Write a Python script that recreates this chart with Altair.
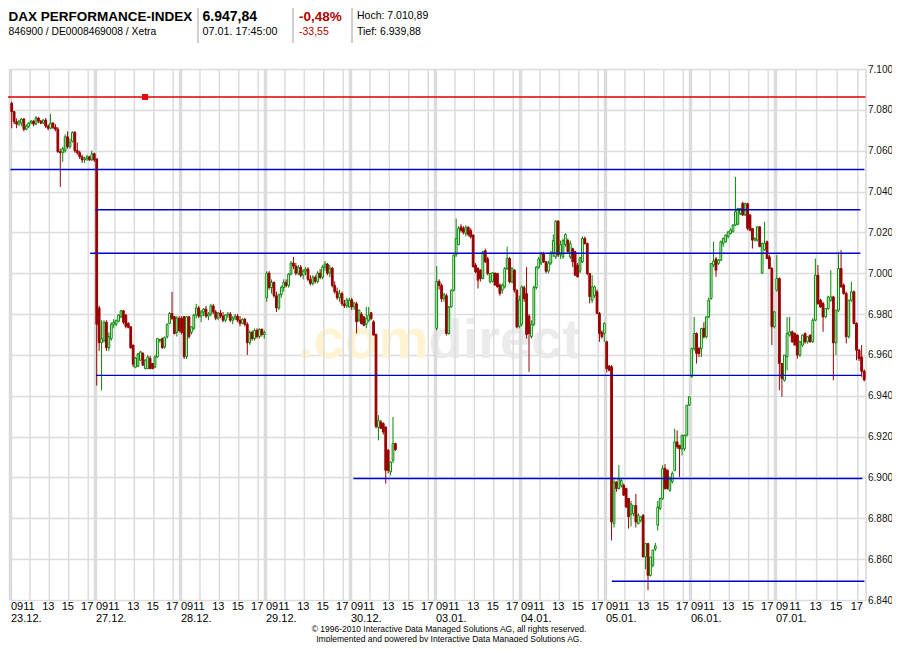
import altair as alt
import pandas as pd

FONT = "Liberation Sans"
GREEN = "#008a00"
DOWN = "#990000"
BLUE = "#0000cc"
GRID = "#dcdcdc"

DAY_LABELS = ["23.12.", "27.12.", "28.12.", "29.12.", "30.12.",
              "03.01.", "04.01.", "05.01.", "06.01.", "07.01."]
HOUR_VALUES = [9, 11, 13, 15, 17]
HOUR_LABELS = ["09", "11", "13", "15", "17"]
Y_TICKS = list(range(6840, 7101, 20))

# 15-minute candles (open, high, low, close) per trading day
d_2312 = [
    (7083.2, 7084.0, 7071.0, 7079.1), (7079.1, 7079.5, 7073.0, 7074.2), (7074.2, 7075.8, 7071.0, 7073.0),
    (7073.0, 7075.0, 7072.0, 7074.5), (7073.5, 7076.0, 7072.0, 7075.5), (7075.5, 7076.0, 7069.5, 7070.5),
    (7070.5, 7073.0, 7070.0, 7072.0), (7072.0, 7074.0, 7071.0, 7073.5), (7073.5, 7075.0, 7073.0, 7074.5),
    (7074.5, 7075.0, 7072.0, 7073.0), (7073.0, 7077.0, 7072.5, 7076.0), (7076.0, 7076.5, 7073.5, 7074.5),
    (7074.5, 7075.0, 7073.0, 7073.5), (7073.5, 7075.5, 7073.0, 7075.0), (7075.0, 7076.0, 7071.0, 7072.0),
    (7072.0, 7073.0, 7070.0, 7071.0), (7071.0, 7078.0, 7070.5, 7073.5), (7073.5, 7074.0, 7070.5, 7071.5),
    (7071.5, 7073.0, 7069.5, 7070.5), (7070.5, 7071.5, 7059.0, 7059.5), (7059.5, 7061.0, 7042.3, 7059.0),
    (7059.0, 7062.0, 7054.6, 7061.0), (7060.0, 7068.0, 7059.0, 7066.8), (7066.8, 7069.5, 7061.0, 7062.0),
    (7062.0, 7066.0, 7061.0, 7064.0), (7064.5, 7069.5, 7064.0, 7069.0), (7069.0, 7069.5, 7059.0, 7060.0),
    (7060.0, 7064.0, 7058.0, 7059.0), (7059.0, 7060.0, 7056.0, 7057.0), (7057.0, 7058.0, 7054.0, 7055.5),
    (7055.5, 7057.0, 7054.0, 7056.0), (7056.0, 7058.0, 7055.0, 7057.0), (7057.0, 7057.5, 7055.0, 7055.5),
    (7055.5, 7060.0, 7055.0, 7058.5), (7058.5, 7059.0, 7054.5, 7055.5),
]
d_2712 = [
    (7056.0, 7056.0, 6945.0, 6975.0), (6983.0, 6984.0, 6962.0, 6966.0), (6966.0, 6977.0, 6942.7, 6968.0),
    (6967.0, 6977.0, 6966.0, 6976.0), (6976.0, 6977.0, 6962.0, 6963.5), (6963.5, 6971.0, 6962.0, 6969.0),
    (6968.0, 6976.0, 6967.0, 6975.0), (6975.0, 6977.5, 6973.0, 6976.0), (6975.0, 6977.0, 6974.0, 6977.0),
    (6976.5, 6980.0, 6976.0, 6979.5), (6978.6, 6982.0, 6978.0, 6981.6), (6981.6, 6982.0, 6975.0, 6976.0),
    (6979.5, 6980.0, 6973.0, 6974.0), (6975.5, 6976.0, 6973.0, 6973.5), (6973.8, 6974.0, 6963.0, 6963.5),
    (6964.8, 6965.0, 6954.0, 6955.5), (6954.0, 6959.0, 6953.5, 6958.5), (6954.5, 6961.0, 6954.0, 6960.5),
    (6957.4, 6962.0, 6957.0, 6961.5), (6960.7, 6961.5, 6954.5, 6955.0), (6953.3, 6958.0, 6953.0, 6957.4),
    (6953.3, 6960.0, 6953.0, 6959.0), (6958.3, 6959.5, 6953.0, 6953.3), (6955.8, 6956.0, 6953.0, 6953.3),
    (6954.0, 6960.0, 6953.5, 6959.0), (6959.0, 6968.0, 6958.5, 6968.0), (6967.0, 6968.0, 6966.0, 6967.5),
    (6968.0, 6968.5, 6963.0, 6963.5), (6964.0, 6969.0, 6963.0, 6968.5), (6968.9, 6975.4, 6968.0, 6975.0),
    (6975.4, 6981.0, 6975.0, 6980.3), (6980.3, 6990.9, 6977.0, 6978.0), (6978.7, 6979.0, 6970.0, 6970.5),
    (6971.0, 6979.0, 6969.0, 6978.0), (6978.0, 6979.0, 6971.0, 6972.0),
]
d_2812 = [
    (6978.0, 6979.0, 6970.0, 6971.0), (6978.7, 6979.0, 6958.0, 6959.1), (6959.1, 6979.0, 6958.0, 6978.7),
    (6978.7, 6979.0, 6968.0, 6969.0), (6971.0, 6974.0, 6970.0, 6973.8), (6973.0, 6980.0, 6972.0, 6979.5),
    (6979.5, 6985.0, 6978.0, 6983.0), (6983.0, 6984.0, 6978.0, 6979.0), (6979.0, 6982.0, 6976.0, 6981.0),
    (6981.0, 6983.0, 6979.0, 6982.5), (6982.5, 6984.0, 6978.0, 6979.0), (6979.0, 6981.0, 6977.0, 6980.0),
    (6980.0, 6985.0, 6979.0, 6984.0), (6984.0, 6985.0, 6980.0, 6981.0), (6981.0, 6982.0, 6977.0, 6978.0),
    (6978.0, 6981.0, 6977.0, 6980.5), (6980.5, 6982.0, 6978.0, 6979.0), (6979.0, 6981.0, 6976.0, 6977.0),
    (6977.0, 6980.0, 6976.0, 6979.5), (6979.5, 6981.0, 6978.0, 6980.0), (6980.0, 6981.0, 6976.0, 6977.0),
    (6977.0, 6979.0, 6975.0, 6978.0), (6978.0, 6980.0, 6977.0, 6979.0), (6979.0, 6980.0, 6976.0, 6977.0),
    (6977.0, 6979.0, 6974.0, 6975.5), (6975.5, 6978.0, 6975.0, 6977.5), (6977.5, 6978.0, 6974.0, 6975.0),
    (6975.0, 6976.0, 6960.0, 6966.0), (6966.0, 6972.0, 6965.0, 6971.0), (6971.0, 6972.0, 6967.0, 6968.0),
    (6968.0, 6973.0, 6967.0, 6972.0), (6972.0, 6973.0, 6968.0, 6969.0), (6969.0, 6973.0, 6968.0, 6972.5),
    (6972.5, 6973.0, 6969.0, 6970.0), (6970.0, 6972.0, 6968.0, 6971.0),
]
d_2912 = [
    (6988.0, 7001.0, 6986.0, 7000.0), (7000.0, 7001.0, 6992.0, 6993.0), (6993.0, 6997.0, 6990.0, 6995.5),
    (6995.5, 6996.0, 6988.0, 6989.0), (6989.0, 6991.0, 6981.0, 6983.0), (6983.0, 6990.0, 6982.0, 6989.5),
    (6989.5, 6994.0, 6988.0, 6993.0), (6993.0, 6997.0, 6991.0, 6995.5), (6995.5, 6997.0, 6993.0, 6994.0),
    (6994.0, 7000.0, 6993.0, 6999.5), (6999.5, 7006.0, 6999.0, 7005.0), (7005.0, 7008.0, 7002.0, 7003.5),
    (7003.5, 7005.0, 6999.0, 7000.0), (7000.0, 7004.0, 6999.0, 7003.0), (7003.0, 7004.0, 6998.0, 6999.0),
    (6999.0, 7002.0, 6997.0, 7001.0), (7001.0, 7003.0, 6999.0, 7002.0), (7002.0, 7003.0, 6996.0, 6997.0),
    (6997.0, 6999.0, 6994.0, 6995.0), (6995.0, 6999.0, 6994.0, 6998.0), (6998.0, 6999.0, 6995.0, 6996.0),
    (6996.0, 7001.0, 6995.0, 7000.0), (7000.0, 7002.0, 6997.0, 6998.0), (6998.0, 7004.0, 6997.0, 7003.0),
    (7003.0, 7006.0, 7001.0, 7004.5), (7004.5, 7005.0, 6999.0, 7000.0), (7000.0, 7004.0, 6998.0, 7002.5),
    (7002.5, 7003.0, 6993.0, 6994.0), (6994.0, 6996.0, 6990.0, 6991.0), (6991.0, 6993.0, 6987.0, 6988.0),
    (6988.0, 6992.0, 6986.0, 6990.0), (6990.0, 6991.0, 6984.0, 6985.0), (6985.0, 6987.0, 6983.0, 6984.0),
    (6984.0, 6988.0, 6983.0, 6987.0), (6983.5, 6988.0, 6983.0, 6986.8),
]
d_3012 = [
    (6987.0, 6988.0, 6982.0, 6983.5), (6983.5, 6986.0, 6982.0, 6985.5), (6985.0, 6986.0, 6970.5, 6976.2),
    (6977.0, 6982.0, 6976.0, 6982.0), (6980.0, 6981.0, 6975.0, 6975.3), (6978.6, 6979.0, 6974.0, 6974.5),
    (6975.0, 6983.5, 6973.0, 6977.8), (6977.0, 6983.5, 6976.0, 6979.5), (6980.6, 6981.0, 6977.0, 6977.8),
    (6976.2, 6977.0, 6969.7, 6969.7), (6970.0, 6970.5, 6924.0, 6925.0), (6924.5, 6930.5, 6918.2, 6928.0),
    (6927.2, 6928.0, 6924.0, 6924.0), (6926.4, 6927.0, 6921.0, 6922.3), (6924.7, 6925.0, 6897.0, 6903.5),
    (6913.3, 6914.0, 6902.0, 6903.5), (6902.7, 6908.0, 6901.0, 6907.6), (6908.4, 6929.6, 6907.0, 6916.6),
    (6916.6, 6917.0, 6913.0, 6913.6),
]
d_0301 = [
    (6973.0, 7003.5, 6972.0, 6996.0), (6996.0, 6997.0, 6992.0, 6994.0), (6994.0, 6995.0, 6986.0, 6987.5),
    (6987.5, 6990.5, 6986.0, 6989.5), (6989.0, 6990.0, 6969.5, 6970.5), (6970.5, 6984.0, 6970.0, 6983.5),
    (6983.5, 6992.0, 6983.0, 6991.7), (6991.7, 7009.0, 6991.0, 7008.9), (7009.0, 7026.8, 7008.0, 7017.0),
    (7014.0, 7023.0, 7013.8, 7021.9), (7022.7, 7024.0, 7020.0, 7021.0), (7022.0, 7023.0, 7019.0, 7020.0),
    (7019.5, 7023.5, 7018.0, 7022.5), (7022.5, 7023.0, 7018.0, 7019.0), (7021.0, 7022.0, 7017.0, 7017.8),
    (7018.7, 7019.0, 7003.0, 7003.1), (7004.0, 7005.0, 7000.0, 7000.7), (7002.3, 7003.0, 6992.5, 6996.6),
    (7001.5, 7002.0, 6996.0, 6997.4), (6997.4, 7011.0, 6997.0, 7010.5), (7011.0, 7012.0, 7005.0, 7005.6),
    (7007.0, 7008.0, 6999.0, 6999.9), (6995.8, 7000.0, 6995.0, 6999.9), (6996.0, 7000.5, 6995.5, 7000.2),
    (6999.9, 7000.5, 6994.0, 6994.2), (6999.9, 7000.0, 6993.0, 6993.3), (6994.2, 6995.0, 6989.0, 6990.1),
    (6991.7, 6995.0, 6990.0, 6994.2), (6993.3, 7003.0, 6992.5, 7002.3), (7002.3, 7013.0, 7001.5, 7007.2),
    (7007.2, 7008.0, 6995.0, 6995.8), (6995.8, 7003.0, 6995.0, 7002.3), (7001.5, 7002.0, 6990.5, 6991.7),
    (6991.7, 6992.0, 6973.0, 6973.7), (6974.0, 6989.0, 6973.0, 6986.8),
]
d_0401 = [
    (6975.0, 6994.0, 6974.0, 6993.3), (6993.0, 6994.0, 6986.0, 6987.5), (6990.0, 7003.0, 6968.0, 6970.0),
    (6979.0, 6980.0, 6951.7, 6970.5), (6969.0, 6977.0, 6968.0, 6975.0), (6975.0, 6994.0, 6974.0, 6993.0),
    (6993.0, 7003.5, 6992.0, 7003.0), (7003.0, 7008.0, 7002.0, 7007.0), (7005.0, 7010.5, 7004.0, 7009.5),
    (7009.5, 7010.5, 7005.0, 7005.6), (7005.6, 7006.0, 7000.0, 7001.0), (7001.0, 7006.0, 7000.0, 7005.0),
    (7005.0, 7011.0, 7004.0, 7010.0), (7010.0, 7019.0, 7008.0, 7016.0), (7008.0, 7026.0, 7007.0, 7025.5),
    (7025.5, 7026.0, 7008.0, 7009.0), (7009.0, 7016.0, 7007.0, 7014.0), (7008.0, 7017.0, 7007.0, 7016.0),
    (7014.0, 7019.5, 7013.0, 7019.0), (7016.0, 7017.0, 7010.0, 7010.5), (7008.0, 7016.0, 7007.0, 7014.5),
    (7012.0, 7012.5, 7003.0, 7005.6), (7010.5, 7011.0, 6999.0, 6999.0), (7004.0, 7005.0, 6998.0, 6998.2),
    (7001.0, 7008.0, 7000.0, 7007.5), (7005.6, 7018.0, 7005.0, 7017.0), (7017.0, 7018.0, 7014.0, 7014.6),
    (7014.6, 7015.0, 6999.0, 6999.9), (6999.9, 7000.0, 6985.2, 6988.5), (6986.8, 6999.0, 6985.5, 6993.3),
    (6989.0, 6994.0, 6988.0, 6993.3), (6990.9, 6992.0, 6980.0, 6980.3), (6980.3, 6981.0, 6966.4, 6970.5),
    (6971.0, 6972.0, 6968.0, 6968.9), (6970.5, 6976.0, 6966.4, 6975.4),
]
d_0501 = [
    (6966.4, 6967.0, 6951.5, 6953.3), (6954.5, 6955.0, 6952.0, 6952.5), (6954.2, 6955.0, 6869.2, 6878.2),
    (6877.4, 6900.0, 6875.5, 6897.8), (6897.8, 6898.0, 6893.0, 6894.6), (6894.6, 6906.0, 6894.0, 6899.4),
    (6896.0, 6899.5, 6895.0, 6898.5), (6896.2, 6897.0, 6891.0, 6891.3), (6894.6, 6895.0, 6885.0, 6885.6),
    (6889.7, 6890.0, 6875.0, 6880.7), (6882.0, 6888.5, 6876.0, 6887.0), (6882.3, 6886.5, 6881.0, 6886.2),
    (6886.2, 6892.0, 6875.5, 6878.2), (6877.4, 6882.5, 6877.0, 6881.5), (6879.0, 6881.0, 6878.0, 6880.7),
    (6881.5, 6882.0, 6861.0, 6861.1), (6861.1, 6868.0, 6855.0, 6867.6), (6867.6, 6868.0, 6844.8, 6852.1),
    (6852.0, 6861.0, 6851.5, 6861.0), (6857.0, 6864.5, 6856.0, 6864.5), (6865.0, 6868.0, 6864.0, 6866.5),
    (6876.6, 6888.5, 6874.0, 6885.6), (6884.8, 6890.0, 6884.0, 6889.7), (6889.7, 6906.0, 6889.0, 6904.4),
    (6904.4, 6906.5, 6894.0, 6894.6), (6903.5, 6904.0, 6894.0, 6894.6), (6893.7, 6900.5, 6893.0, 6899.4),
    (6898.0, 6903.0, 6897.0, 6902.0), (6903.5, 6923.9, 6903.0, 6917.4), (6917.4, 6923.0, 6914.0, 6915.0),
    (6915.7, 6916.0, 6900.3, 6914.0), (6914.0, 6920.7, 6910.8, 6920.7), (6914.0, 6921.0, 6913.0, 6920.7),
    (6920.7, 6935.4, 6920.0, 6935.4), (6935.4, 6939.5, 6935.0, 6939.5),
]
d_0601 = [
    (6949.3, 6963.5, 6949.0, 6963.1), (6963.1, 6978.6, 6962.0, 6970.5), (6970.5, 6971.0, 6955.8, 6960.7),
    (6963.1, 6964.0, 6959.0, 6960.7), (6963.1, 6973.0, 6959.0, 6973.0), (6973.0, 6976.0, 6968.0, 6968.9),
    (6968.9, 6979.0, 6968.0, 6978.6), (6978.6, 6988.0, 6978.0, 6986.8), (6987.6, 7005.0, 6987.0, 7004.8),
    (7004.0, 7015.4, 7003.0, 7006.0), (7007.0, 7008.0, 6998.2, 7001.5), (7004.8, 7007.0, 7004.0, 7006.4),
    (7006.4, 7016.0, 7006.0, 7015.4), (7014.6, 7017.5, 7013.0, 7017.0), (7015.4, 7019.0, 7015.0, 7018.7),
    (7018.0, 7020.5, 7017.0, 7020.3), (7019.5, 7022.0, 7019.0, 7021.1), (7020.3, 7024.0, 7020.0, 7023.6),
    (7023.6, 7047.2, 7023.0, 7030.1), (7024.0, 7032.0, 7023.5, 7031.7), (7029.0, 7032.0, 7028.5, 7031.7),
    (7034.2, 7035.0, 7028.0, 7028.5), (7028.5, 7034.5, 7028.0, 7034.2), (7034.0, 7034.5, 7021.0, 7022.0),
    (7028.5, 7029.0, 7020.5, 7021.1), (7021.9, 7022.0, 7012.1, 7016.2), (7016.2, 7017.5, 7015.5, 7017.0),
    (7016.2, 7023.0, 7015.5, 7022.7), (7022.7, 7023.0, 7013.0, 7013.0), (7000.0, 7015.0, 6999.9, 7014.6),
    (7011.5, 7025.2, 7011.0, 7014.6), (7015.4, 7016.0, 7007.0, 7007.2), (7008.0, 7009.0, 7002.0, 7002.3),
    (7002.3, 7003.0, 6964.8, 6973.8), (6973.8, 6981.5, 6973.0, 6981.1),
]
d_0701 = [
    (6991.7, 7008.9, 6991.0, 6997.4), (6997.4, 6998.0, 6942.7, 6955.8), (6955.8, 6956.0, 6939.5, 6948.4),
    (6947.6, 6960.0, 6947.0, 6959.9), (6959.1, 6978.6, 6952.5, 6970.5), (6969.7, 6978.6, 6969.0, 6971.3),
    (6971.3, 6972.0, 6966.0, 6966.4), (6970.5, 6971.0, 6964.8, 6964.8), (6969.7, 6970.0, 6958.2, 6959.9),
    (6959.9, 6967.0, 6959.0, 6966.4), (6964.8, 6970.0, 6964.0, 6969.7), (6970.5, 6971.0, 6965.5, 6966.4),
    (6966.4, 6969.0, 6965.5, 6968.9), (6969.7, 6970.0, 6966.0, 6966.4), (6966.4, 6978.0, 6966.0, 6977.0),
    (6977.0, 7007.2, 6976.5, 6999.0), (6999.0, 7004.0, 6984.5, 6985.2), (6986.8, 6987.5, 6983.0, 6983.5),
    (6985.2, 6986.0, 6971.3, 6978.6), (6978.6, 6983.0, 6978.0, 6982.7), (6982.7, 6989.0, 6982.0, 6988.4),
    (6986.8, 7001.5, 6986.0, 6988.4), (6988.4, 6989.0, 6947.6, 6965.9), (6965.9, 6982.0, 6959.9, 6981.9),
    (6981.9, 7010.5, 6981.0, 7002.3), (7002.3, 7011.3, 6993.0, 6993.3), (6994.2, 6995.0, 6989.5, 6990.1),
    (6990.1, 6991.0, 6965.6, 6968.9), (6968.9, 6987.0, 6968.0, 6986.8), (6986.8, 6995.8, 6986.0, 6990.9),
    (6990.9, 6991.5, 6975.0, 6975.4), (6975.4, 6976.0, 6957.4, 6962.3), (6962.3, 6963.0, 6957.0, 6958.2),
    (6959.0, 6964.8, 6949.3, 6952.0), (6952.0, 6953.0, 6947.0, 6947.8),
]
DAYS = [d_2312, d_2712, d_2812, d_2912, d_3012, d_0301, d_0401, d_0501, d_0601, d_0701]

# support / resistance lines: price level and where they start / end (trading hours since 23.12. 09:00)
LEVEL_PRICE = [7050.8, 7031.1, 7009.8, 6950.0, 6899.5, 6849.2]
LEVEL_START = [0.0, 8.75, 8.2, 8.8, 35.3, 61.9]
LEVEL_END = [87.4, 87.0, 87.0, 87.1, 87.2, 87.4]
RED_PRICE = [7086.3]
RED_START = [-1.1]
RED_END = [87.5]
RED_MARK_T = [13.85]

HEADER = {
    "name": "DAX PERFORMANCE-INDEX", "ids": "846900 / DE0008469008 / Xetra",
    "price": "6.947,84", "time": "07.01. 17:45:00",
    "pct": "-0,48%", "chg": "-33,55",
    "high": "Hoch: 7.010,89", "low": "Tief: 6.939,88",
}
COPYRIGHT = ["\u00a9 1996-2010 Interactive Data Managed Solutions AG, all rights reserved.",
             "Implemented and powered by Interactive Data Managed Solutions AG."]

DAY_LEN = 8.75
W, H = 855, 531

# ---------- tables ----------
rows = []
for d, day in enumerate(DAYS):
    for i, (o, h, l, c) in enumerate(day):
        t = d * DAY_LEN + i * 0.25
        rows.append(dict(t0=t + 0.035, t1=t + 0.215, tm=t + 0.125, o=o, c=c,
                         h=max(h, o, c), l=min(l, o, c), top=max(o, c), bot=min(o, c),
                         up=bool(c >= o)))
cdf = pd.DataFrame(rows)

thin = pd.DataFrame([dict(t=d * DAY_LEN + hh - 9) for d in range(len(DAY_LABELS)) for hh in HOUR_VALUES[1:]])
thick = pd.DataFrame([dict(t=d * DAY_LEN) for d in range(len(DAY_LABELS))])
hours09 = pd.DataFrame([dict(t=d * DAY_LEN, lab=HOUR_LABELS[0]) for d in range(len(DAY_LABELS))])
hours = pd.DataFrame([dict(t=d * DAY_LEN + hh - 9, lab=lab) for d in range(len(DAY_LABELS))
                      for hh, lab in zip(HOUR_VALUES[1:], HOUR_LABELS[1:])])
dates = pd.DataFrame([dict(t=d * DAY_LEN, lab=lab) for d, lab in enumerate(DAY_LABELS)])
levels = pd.DataFrame(dict(p=LEVEL_PRICE, t0=LEVEL_START, t1=LEVEL_END))
red = pd.DataFrame(dict(p=RED_PRICE, t0=RED_START, t1=RED_END))
redmark = pd.DataFrame(dict(p=RED_PRICE, t=RED_MARK_T))
one = pd.DataFrame({"a": [0]})

xs = alt.Scale(domain=[0, 78.75, 87.5], range=[0, 765, W], nice=False, zero=False)
ys = alt.Scale(domain=[6840, 7100], nice=False, zero=False)
yaxis = alt.Axis(orient="right", values=Y_TICKS, grid=True, gridColor=GRID, gridWidth=1.5,
                 domain=True, domainColor=GRID, domainWidth=1.5, ticks=False, labelPadding=2,
                 labelFont=FONT, labelFontSize=10, labelColor="#111111", title=None,
                 labelFlush=False, labelExpr="replace(format(datum.value, ','), ',', '.')")


def X(f):
    return alt.X(f, type="quantitative", scale=xs, axis=None)


def Y(f):
    return alt.Y(f, type="quantitative", scale=ys, axis=yaxis)


layers = []
# watermark
layers.append(alt.Chart(one).mark_text(text=".com", font=FONT, fontWeight="bold", fontSize=56,
                                       color="#fff3d2", align="right", baseline="alphabetic")
              .encode(x=alt.value(418), y=alt.value(289)))
layers.append(alt.Chart(one).mark_text(text="direct", font=FONT, fontWeight="bold", fontSize=56,
                                       color="#ebebeb", align="left", baseline="alphabetic")
              .encode(x=alt.value(418), y=alt.value(289)))
# vertical grid
layers.append(alt.Chart(thin).mark_rule(color=GRID, strokeWidth=1.5)
              .encode(x=X("t"), y=alt.value(0), y2=alt.value(H)))
layers.append(alt.Chart(thick).mark_rule(color=GRID, strokeWidth=3.5)
              .encode(x=X("t"), y=alt.value(0), y2=alt.value(H)))
# candles
layers.append(alt.Chart(cdf).mark_rule(strokeWidth=1)
              .encode(x=X("tm"), y=Y("l"), y2="h",
                      color=alt.condition("datum.up", alt.value(GREEN), alt.value(DOWN))))
layers.append(alt.Chart(cdf).mark_rect(strokeWidth=1)
              .encode(x=X("t0"), x2="t1", y=Y("bot"), y2="top",
                      fill=alt.condition("datum.up", alt.value("#ffffff"), alt.value(DOWN)),
                      stroke=alt.condition("datum.up", alt.value(GREEN), alt.value(DOWN))))
# levels
layers.append(alt.Chart(levels).mark_rule(color=BLUE, strokeWidth=1.4)
              .encode(x=X("t0"), x2="t1", y=Y("p")))
layers.append(alt.Chart(red).mark_rule(color="#e00000", strokeWidth=1.4)
              .encode(x=X("t0"), x2="t1", y=Y("p")))
layers.append(alt.Chart(redmark).mark_square(size=36, color="#ee0000", opacity=1)
              .encode(x=X("t"), y=Y("p")))
# x labels
layers.append(alt.Chart(hours09).mark_text(font=FONT, fontSize=11, color="#000000", align="left",
                                           baseline="middle", dx=0.5)
              .encode(x=X("t"), y=alt.value(H + 7), text="lab:N"))
layers.append(alt.Chart(hours).mark_text(font=FONT, fontSize=11, color="#000000", align="center",
                                         baseline="middle", dx=-1)
              .encode(x=X("t"), y=alt.value(H + 7), text="lab:N"))
layers.append(alt.Chart(dates).mark_text(font=FONT, fontSize=11, color="#000000", align="left",
                                         baseline="middle", dx=0.5)
              .encode(x=X("t"), y=alt.value(H + 18.5), text="lab:N"))
# copyright
for k, line in enumerate(COPYRIGHT):
    layers.append(alt.Chart(one).mark_text(text=line, font=FONT, fontSize=8.5, color="#000000",
                                           align="center", baseline="alphabetic")
                  .encode(x=alt.value(438.5), y=alt.value(H + 32 + 9.5 * k)))
# header
def htext(txt, x, y, size, bold=False, color="#000000"):
    return (alt.Chart(one).mark_text(text=txt, font=FONT, fontSize=size,
                                     fontWeight="bold" if bold else "normal", color=color,
                                     align="left", baseline="middle")
            .encode(x=alt.value(x), y=alt.value(y)))


layers += [
    htext(HEADER["name"], -2.0, -52.5, 13.5, True),
    htext(HEADER["ids"], -2.0, -37.5, 10.3),
    htext(HEADER["price"], 192, -52.5, 14, True),
    htext(HEADER["time"], 192, -37.5, 10.8),
    htext(HEADER["pct"], 288.5, -52.5, 13.5, True, "#b00000"),
    htext(HEADER["chg"], 288.5, -37.5, 10.5, False, "#b00000"),
    htext(HEADER["high"], 346.5, -53, 10.5),
    htext(HEADER["low"], 346.5, -37.5, 10.5),
]
for sx in [187.5, 282.5, 341.5]:
    layers.append(alt.Chart(one).mark_rule(color="#a0a0a0", strokeWidth=1)
                  .encode(x=alt.value(sx), y=alt.value(-67), y2=alt.value(-26)))

chart = (alt.layer(*layers)
         .properties(width=W, height=H,
                     autosize=alt.AutoSizeParams(type="none"),
                     padding={"left": 2.5, "top": 61, "right": 26.5, "bottom": 42})
         .configure_view(stroke=None)
         .configure(background="#ffffff"))

chart.save("out.html", embed_options={"renderer": "svg", "actions": False})
